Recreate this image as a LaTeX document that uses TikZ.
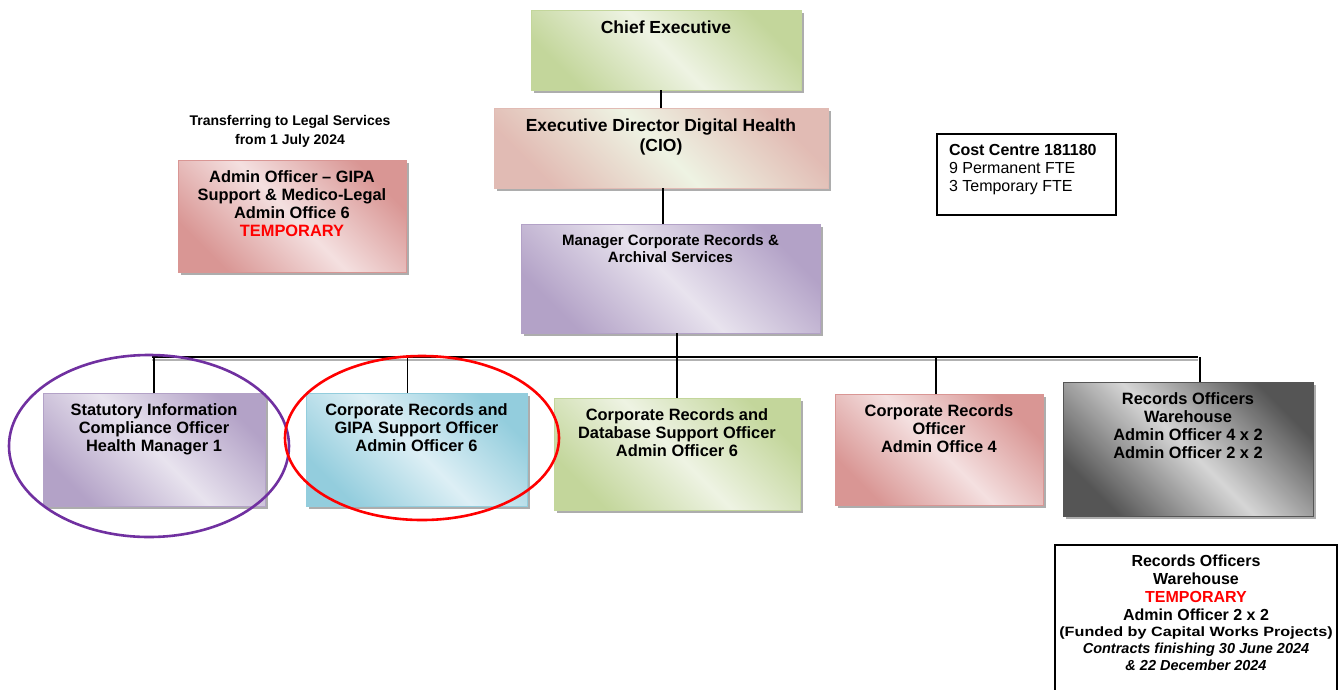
\documentclass[tikz,border=0pt]{standalone}
\usepackage{fontspec}
\usepackage{graphicx}
\setmainfont{Liberation Sans}
\usetikzlibrary{shadows}
\definecolor{green-dark}{HTML}{C3D69B}
\definecolor{green-light}{HTML}{EEF3E3}
\definecolor{pink-dark}{HTML}{D99694}
\definecolor{pink-light}{HTML}{F4E0E0}
\definecolor{purple-dark}{HTML}{B3A2C7}
\definecolor{purple-light}{HTML}{E8E3EE}
\definecolor{blue-dark}{HTML}{93CDDD}
\definecolor{blue-light}{HTML}{DDEFF5}
\definecolor{gray-dark}{HTML}{555555}
\definecolor{gray-light}{HTML}{D6D6D6}
\definecolor{ring-purple}{HTML}{7030A0}
\newcommand{\boxtext}[3]{\parbox[c][#2][t]{#1}{\centering\vspace*{10.5pt}#3}}
\newcommand{\orgfont}[2]{\fontsize{#1}{#2}\selectfont\bfseries}
\tikzset{
    org-box/.style = {rectangle, inner sep=0pt, thin, font=\orgfont{16.4}{18},
        drop shadow={shadow xshift=3pt, shadow yshift=-3pt, fill=black!40, opacity=.8}},
    shade-box/.style 2 args = {org-box, draw=#1, left color=#1, right color=#1, middle color=#2, shading angle=135},
    green-box/.style = {shade-box={green-dark}{green-light}},
    pink-box/.style = {shade-box={pink-dark}{pink-light}},
    purple-box/.style = {shade-box={purple-dark}{purple-light}},
    blue-box/.style = {shade-box={blue-dark}{blue-light}},
    gray-box/.style = {shade-box={gray-dark}{gray-light}},
    plain-box/.style = {rectangle, inner sep=0pt, draw=black, line width=1.2pt, fill=white},
    org-line/.style = {draw=black, line width=1.3pt},
    ring/.style = {line width=2.6pt},
}

\begin{document}
\begin{tikzpicture}[x=1pt, y=-1pt]
\useasboundingbox (0,0) rectangle (1338,689);

% upper levels
\node[green-box, font=\orgfont{17.5}{20}] (chief) at (666,50) {\boxtext{270pt}{80pt}{Chief Executive}};
\node[shade-box={pink-dark!60!green-light}{green-light}, font=\orgfont{17.5}{20}] (ed) at (661,148)
    {\boxtext{334pt}{80pt}{Executive Director Digital Health\\(CIO)}};
\node[purple-box, font=\orgfont{15}{17.5}] (mgr) at (670.5,278.5) {\boxtext{299pt}{109pt}{Manager Corporate Records \&\\Archival Services}};

% side notes
\node[font=\orgfont{14}{19}, align=center] (transfer) at (290,131) {Transferring to Legal Services\\from 1 July 2024};
\node[pink-box] (legal) at (292,216) {\boxtext{228pt}{112pt}{Admin Officer -- GIPA\\Support \& Medico-Legal\\Admin Office 6\\\textcolor{red}{TEMPORARY}}};
\node[plain-box, font=\fontsize{16}{18}\selectfont] (cost) at (1026.5,174.5)
    {\parbox[c][81pt][t]{179pt}{\raggedright\vspace*{10.5pt}\hspace*{12pt}\textbf{Cost Centre 181180}\\\hspace*{12pt}9 Permanent FTE\\\hspace*{12pt}3 Temporary FTE}};

% bottom row
\node[purple-box] (stat) at (154,449.5) {\boxtext{222pt}{113pt}{Statutory Information\\Compliance Officer\\Health Manager 1}};
\node[blue-box] (gipa) at (416.5,449.5) {\boxtext{221pt}{113pt}{Corporate Records and\\GIPA Support Officer\\Admin Officer 6}};
\node[green-box] (db) at (677,454) {\boxtext{246pt}{112pt}{Corporate Records and\\Database Support Officer\\Admin Officer 6}};
\node[pink-box] (cro) at (939,449.5) {\boxtext{208pt}{111pt}{Corporate Records\\Officer\\Admin Office 4}};
\node[gray-box] (wh) at (1188,449) {\boxtext{250pt}{134pt}{Records Officers\\Warehouse\\Admin Officer 4 x 2\\Admin Officer 2 x 2}};

\node[plain-box] (temp) at (1196,620)
    {\parbox[c][150pt][t]{282pt}{\centering\vspace*{10pt}\orgfont{16}{18}Records Officers\\Warehouse\\\textcolor{red}{TEMPORARY}\\Admin Officer 2 x 2\\[-1pt]
    \fontsize{13.5}{17}\selectfont\scalebox{1.2}[1]{(Funded by Capital Works Projects)}\\\itshape\fontsize{14.5}{17}\selectfont Contracts finishing 30 June 2024\\\& 22 December 2024}};

% connectors
\coordinate (busL) at (152,357);
\coordinate (busR) at (1198,357);
\draw[black!30, line width=1.5pt] ([yshift=-3pt]busL) -- ([yshift=-3pt]busR);
\draw[org-line] (busL) -- (busR);
\draw[org-line] (ed.north) -- (ed.north |- chief.south);
\draw[org-line] ([xshift=2pt]ed.south) -- ([xshift=2pt]ed.south |- mgr.north);
\draw[org-line] (db.north) -- (db.north |- mgr.south);
\draw[org-line] (stat.north) -- (stat.north |- busL);
\draw[org-line] ([xshift=-9pt]gipa.north) -- ([xshift=-9pt]gipa.north |- busL);
\draw[org-line] ([xshift=-3pt]cro.north) -- ([xshift=-3pt]cro.north |- busL);
\draw[org-line] ([xshift=12pt]wh.north) -- ([xshift=12pt]wh.north |- busL);

% highlight rings
\draw[ring, ring-purple] (149,446) ellipse [x radius=140, y radius=91];
\draw[ring, red] (422,438) ellipse [x radius=137, y radius=82];
\end{tikzpicture}
\end{document}
